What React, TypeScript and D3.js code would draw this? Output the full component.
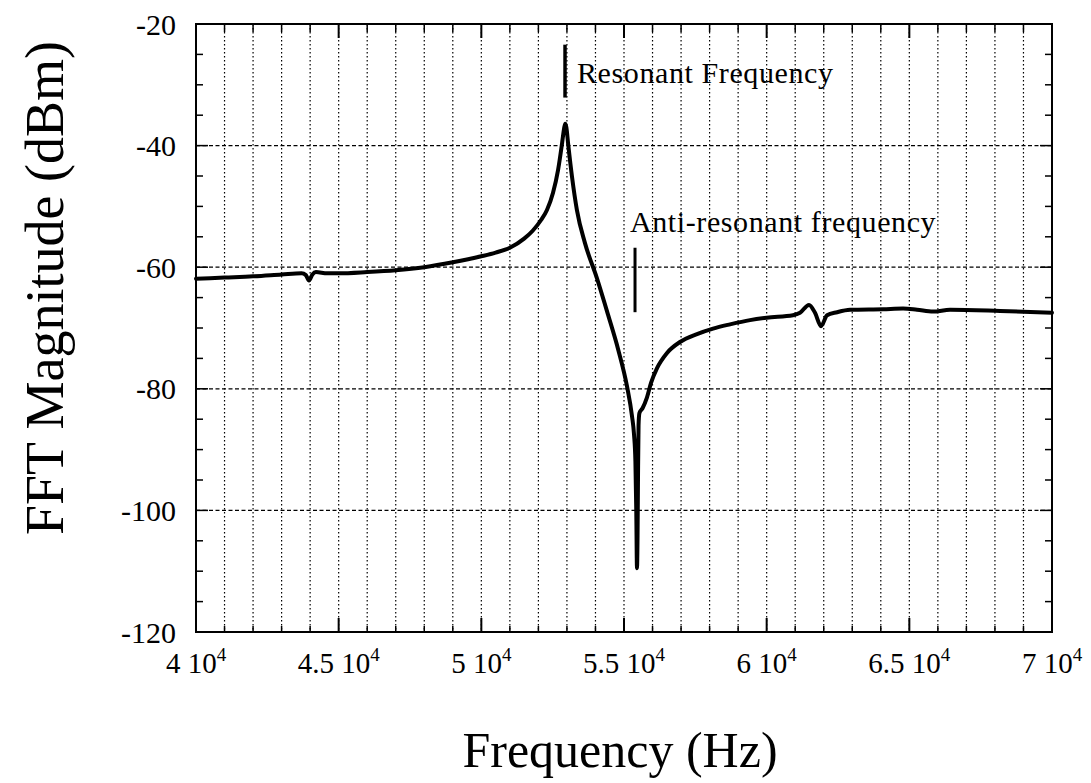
import React from "react";
import * as d3 from "d3";

const freqHz = [
  40000, 41000, 42000, 43000, 43700, 43850, 43960, 44080, 44200, 44600, 45000, 46000, 47000, 48000, 49000,
  50000, 50500, 51000, 51500, 51800, 52100, 52300, 52510, 52690, 52830, 52900, 52940, 52980, 53040, 53180, 53350,
  53630, 54050, 54440, 54800, 55106, 55281, 55351, 55400, 55430, 55455, 55475, 55490, 55510,
  55540, 55650, 55800, 55950, 56158, 56508, 56964, 57560, 58121, 58717, 59416, 60000, 60923, 61169, 61484,
  61695, 61905, 62116, 62466, 62922, 64079, 64780, 65271, 65832, 66428, 68180, 70000,
];
const magDbm = [
  -61.9, -61.7, -61.5, -61.2, -61.0, -61.3, -62.2, -61.2, -60.8, -61.0, -61.0, -60.8, -60.5, -60.0, -59.2,
  -58.2, -57.6, -56.8, -55.3, -54.0, -52.2, -50.6, -47.8, -44.0, -39.6, -37.2, -36.4, -37.0, -39.6, -45.2, -50.6,
  -56.0, -61.8, -67.8, -73.6, -79.6, -84.5, -87.5, -92.0, -100.0, -109.5, -104.0, -95.0, -86.0,
  -84.0, -83.2, -81.5, -79.0, -76.6, -74.1, -72.3, -71.0, -70.1, -69.4, -68.7, -68.3, -67.9, -67.5, -66.2,
  -67.5, -69.7, -67.9, -67.4, -67.0, -66.9, -66.8, -67.0, -67.3, -67.0, -67.2, -67.5,
];

const xTickValues = [40000, 45000, 50000, 55000, 60000, 65000, 70000];
const xTickMantissa = ["4", "4.5", "5", "5.5", "6", "6.5", "7"];
const yTickValues = [-120, -100, -80, -60, -40, -20];

const resonantMarker = { freq: 52933, from: -23.4, to: -32.1, label: "Resonant Frequency" };
const antiMarker = { freq: 55386, from: -56.8, to: -67.4, label: "Anti-resonant frequency" };

const W = 1091;
const H = 783;
const L = 196, R = 1052, T = 24, B = 632;
const FONT = "'Liberation Serif', 'Times New Roman', Times, serif";

export default function App() {
  const x = d3.scaleLinear().domain([40000, 70000]).range([L, R]);
  const y = d3.scaleLinear().domain([-120, -20]).range([B, T]);

  const pts = freqHz.map((f, i) => [f, magDbm[i]] as [number, number]);
  const line = d3
    .line<[number, number]>()
    .x((d) => x(d[0]))
    .y((d) => y(d[1]))
    .curve(d3.curveMonotoneX);

  const minorX = d3.range(41000, 70000, 1000);
  const allX = d3.range(40000, 70001, 1000);
  const yMinor = d3.range(-115, -20, 5);
  const yGrid = [-100, -80, -60, -40];

  return (
    <svg
      width={W}
      height={H}
      style={{ position: "absolute", left: 0, top: 0, background: "#fff" }}
      fontFamily={FONT}
    >
      <rect x={0} y={0} width={W} height={H} fill="#fff" />
      {/* vertical dotted grid */}
      {minorX.map((v) => (
        <line key={"gx" + v} x1={x(v)} x2={x(v)} y1={T} y2={B} stroke="#000" strokeWidth={1.2} strokeDasharray="1.5,2.5" />
      ))}
      {/* horizontal dashed grid */}
      {yGrid.map((v) => (
        <line key={"gy" + v} x1={L} x2={R} y1={y(v)} y2={y(v)} stroke="#000" strokeWidth={1.2} strokeDasharray="4,2.5" />
      ))}
      {/* x ticks bottom & top */}
      {allX.map((v) => {
        const major = v % 5000 === 0;
        const len = major ? 14 : 6;
        const lenT = major ? 14 : 8;
        return (
          <g key={"tx" + v}>
            <line x1={x(v)} x2={x(v)} y1={B} y2={B - len} stroke="#000" strokeWidth={major ? 2 : 1.5} />
            <line x1={x(v)} x2={x(v)} y1={T} y2={T + lenT} stroke="#000" strokeWidth={major ? 2 : 1.5} />
          </g>
        );
      })}
      {/* y ticks left & right */}
      {yMinor.map((v) => {
        const major = v % 20 === 0;
        const len = major ? 12 : 7;
        return (
          <g key={"ty" + v}>
            <line x1={L} x2={L + len} y1={y(v)} y2={y(v)} stroke="#000" strokeWidth={1.5} />
            <line x1={R} x2={R - len} y1={y(v)} y2={y(v)} stroke="#000" strokeWidth={1.5} />
          </g>
        );
      })}
      {/* frame */}
      <rect x={L} y={T} width={R - L} height={B - T} fill="none" stroke="#000" strokeWidth={2} />
      {/* y tick labels */}
      {yTickValues.map((v) => (
        <text key={"ly" + v} x={176} y={y(v)} dy="0.35em" textAnchor="end" fontSize={30} fill="#000">
          {v}
        </text>
      ))}
      {/* x tick labels */}
      {xTickValues.map((v, i) => (
        <text key={"lx" + v} x={x(v)} y={673} textAnchor="middle" fontSize={29} fill="#000">
          {xTickMantissa[i] + " 10"}
          <tspan fontSize={19} dy={-12}>4</tspan>
        </text>
      ))}
      {/* data curve */}
      <path d={line(pts) || ""} fill="none" stroke="#000" strokeWidth={4} strokeLinejoin="round" strokeLinecap="round" />
      {/* annotations */}
      <line x1={x(resonantMarker.freq)} x2={x(resonantMarker.freq)} y1={y(resonantMarker.from)} y2={y(resonantMarker.to)} stroke="#000" strokeWidth={3.5} />
      <text x={577} y={83} fontSize={30} letterSpacing={0.6} fill="#000">{resonantMarker.label}</text>
      <line x1={x(antiMarker.freq)} x2={x(antiMarker.freq)} y1={y(antiMarker.from)} y2={y(antiMarker.to)} stroke="#000" strokeWidth={3} />
      <text x={630} y={232} fontSize={30} letterSpacing={0.6} fill="#000">{antiMarker.label}</text>
      {/* axis labels */}
      <text x={620} y={767} textAnchor="middle" fontSize={50} fill="#000">Frequency (Hz)</text>
      <text transform="translate(63,288) rotate(-90)" textAnchor="middle" fontSize={54} fill="#000">
        FFT Magnitude (dBm)
      </text>
    </svg>
  );
}
